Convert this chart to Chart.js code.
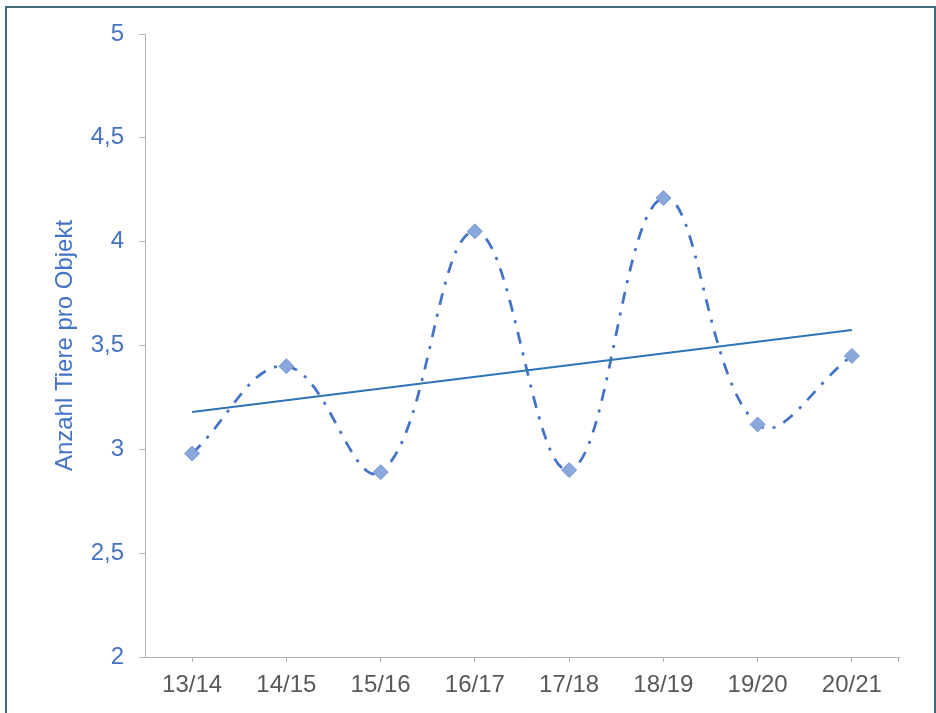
<!DOCTYPE html>
<html lang="de">
<head>
<meta charset="utf-8">
<title>Anzahl Tiere pro Objekt</title>
<script src="https://cdn.jsdelivr.net/npm/chart.js@4/dist/chart.umd.min.js"></script>
<style>
  html, body { margin: 0; padding: 0; background: #ffffff; overflow: hidden; }
  #frame {
    position: absolute; left: 5px; top: 6px; width: 927px; height: 800px;
    border: 2px solid #426b80; box-sizing: content-box; background: #ffffff;
  }
  #chart { position: absolute; left: 0; top: 0; }
</style>
</head>
<body>
<div id="frame"></div>
<canvas id="chart" width="936" height="713"></canvas>
<script>
// Seasons on the category axis
const seasons = ['13/14', '14/15', '15/16', '16/17', '17/18', '18/19', '19/20', '20/21'];
// Mean number of animals per site, one value per season
const animalsPerSite = [2.98, 3.40, 2.89, 4.05, 2.90, 4.21, 3.12, 3.45];
// Linear trend: value at the first and at the last season
const trendEnds = [3.18, 3.575];
// Value axis ticks
const yTicks = [2, 2.5, 3, 3.5, 4, 4.5, 5];

const trendData = seasons.map((_, i) =>
  i === 0 ? trendEnds[0] : (i === seasons.length - 1 ? trendEnds[1] : null));

const blue = '#4472c4';
const axisGrey = '#b3b3b3';
const font = 'Liberation Sans, Arial, Helvetica, sans-serif';

// Closing tick mark at the right end of the category axis
const axisEndTick = {
  id: 'axisEndTick',
  afterDraw(chart) {
    const { ctx, chartArea } = chart;
    const x = Math.round(chartArea.right) - 0.5;
    const y = Math.round(chartArea.bottom);
    ctx.save();
    ctx.strokeStyle = axisGrey;
    ctx.lineWidth = 1;
    ctx.beginPath();
    ctx.moveTo(x, y);
    ctx.lineTo(x, y + 5);
    ctx.stroke();
    ctx.restore();
  }
};

new Chart(document.getElementById('chart'), {
  type: 'line',
  data: {
    labels: seasons,
    datasets: [
      {
        label: 'Trend',
        data: trendData,
        spanGaps: true,
        borderColor: '#2e75b6',
        borderWidth: 2,
        pointRadius: 0,
        tension: 0,
        order: 0
      },
      {
        label: 'Anzahl Tiere pro Objekt',
        data: animalsPerSite,
        borderColor: blue,
        borderWidth: 2.75,
        borderDash: [12, 9, 3, 9],
        borderCapStyle: 'butt',
        tension: 0.4,
        pointStyle: 'rectRot',
        pointRadius: 7.5,
        pointBackgroundColor: '#8aa8dc',
        pointBorderColor: '#7898d4',
        pointBorderWidth: 1,
        order: 1
      }
    ]
  },
  options: {
    responsive: false,
    animation: false,
    events: [],
    layout: { padding: { left: 0, top: 34, right: 37, bottom: 0 } },
    plugins: { legend: { display: false }, tooltip: { enabled: false } },
    scales: {
      x: {
        type: 'category',
        offset: true,
        grid: { display: true, offset: false, drawOnChartArea: false, drawTicks: true, tickLength: 5, color: axisGrey },
        border: { display: true, color: axisGrey, width: 1 },
        ticks: { color: '#595959', font: { family: font, size: 24 }, padding: 9, maxRotation: 0, autoSkip: false },
        afterFit: (scale) => { scale.height = 56; }
      },
      y: {
        min: 2,
        max: 5,
        afterBuildTicks: (scale) => { scale.ticks = yTicks.map(v => ({ value: v })); },
        grid: { display: true, drawOnChartArea: false, drawTicks: true, tickLength: 6, color: axisGrey },
        border: { display: true, color: axisGrey, width: 1 },
        ticks: {
          color: blue,
          font: { family: font, size: 24 },
          padding: 15,
          callback: (v) => String(v).replace('.', ',')
        },
        title: {
          display: true,
          text: 'Anzahl Tiere pro Objekt',
          color: blue,
          font: { family: font, size: 24, weight: 'normal' },
          padding: { top: 51, bottom: 0 }
        },
        afterFit: (scale) => { scale.width = 145; }
      }
    }
  },
  plugins: [axisEndTick]
});
</script>
</body>
</html>
